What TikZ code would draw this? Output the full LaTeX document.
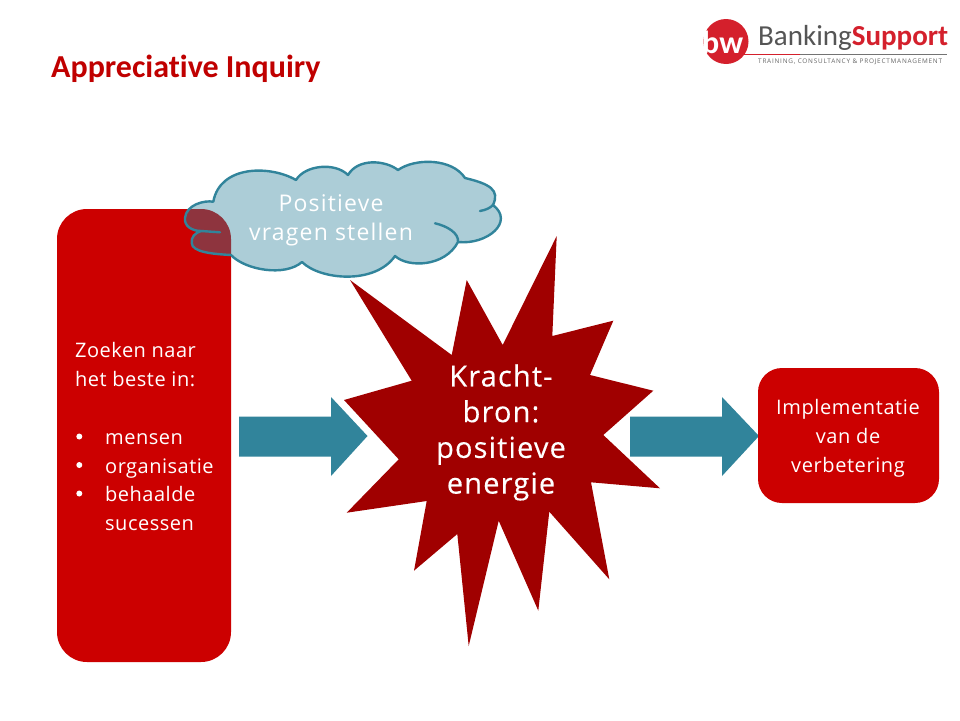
\documentclass[tikz,border=0pt]{standalone}
\usepackage{fontspec}
\setmainfont{Open Sans}
\newfontfamily\titlefont[Ligatures=NoCommon]{Carlito}
\newfontfamily\logofont[Ligatures=NoCommon]{Carlito}
\newfontfamily\tagfont[LetterSpace=12]{Open Sans}
\newfontfamily\bodyfont[LetterSpace=2.5]{Open Sans}
\newfontfamily\rightfont[LetterSpace=3]{Open Sans}
\newfontfamily\cloudfont[LetterSpace=5.2]{Open Sans}
\newfontfamily\starfont[LetterSpace=4,FakeBold=0.3]{Open Sans}
\definecolor{redbox}{RGB}{204,0,0}
\definecolor{starred}{RGB}{160,0,0}
\definecolor{teal1}{RGB}{49,132,155}
\definecolor{titlered}{RGB}{192,0,0}
\definecolor{logored}{RGB}{212,32,44}
\definecolor{logogray}{RGB}{85,85,85}
\tikzset{
 boxfill/.style={fill=redbox,draw=none},
 blockarrow/.style={fill=teal1,draw=none},
 wtext/.style={text=white,inner sep=0pt,font=\bodyfont\fontsize{20}{29}\selectfont},
 ctext/.style={text=white,inner sep=0pt,align=center,anchor=center},
}
\begin{document}
\begin{tikzpicture}[x=1pt,y=-1pt]
\useasboundingbox (0,0) rectangle (960,720);
\fill[white] (0,0) rectangle (960,720);
% title
\node[anchor=base west,inner sep=0pt,text=titlered,font=\titlefont\bfseries\fontsize{32}{36}\selectfont] (title) at (51,77) {Appreciative Inquiry};
% logo
\fill[logored] (726,41.5) circle (22.5);
\node[anchor=base west,inner sep=0pt,text=white,font=\logofont\bfseries\fontsize{32}{32}\selectfont] (bw) at (702,53) {bw};
\node[anchor=base west,inner sep=0pt,text=logogray,font=\logofont\fontsize{29}{29}\selectfont] (bank) at (758,45) {Banking\textcolor{logored}{\bfseries Support}};
\draw[logored,line width=0.8pt] (743,54) -- (800,54);
\draw[black!55,line width=0.8pt] (800,54) -- (947,54);
\node[anchor=base west,inner sep=0pt,text=black!60,font=\tagfont\fontsize{6.4}{7}\selectfont] (tag) at (758,63) {TRAINING, CONSULTANCY \& PROJECTMANAGEMENT};
% left box
\fill[boxfill,rounded corners=30] (57,209) rectangle (231,662);
% cloud
\path[fill=teal1,fill opacity=0.4,draw=teal1,draw opacity=1,line width=2.4pt,line cap=round,line join=round]
 (213.3,201.7) .. controls (204,200) and (186,205) .. (185,218)
 .. controls (184,226) and (192,231) .. (201,231)
 .. controls (195,233) and (191,237) .. (191.7,243)
 .. controls (192,252) and (212,254) .. (231,255)
 .. controls (245,270) and (285,277) .. (302,262)
 .. controls (320,280) and (375,285) .. (395,256)
 .. controls (408,268) and (445,267) .. (458,242)
 .. controls (487,245) and (515,222) .. (493,205)
 .. controls (500,190) and (490,184) .. (465,178)
 .. controls (452,158) and (415,158) .. (398,170)
 .. controls (385,160) and (358,158) .. (348,175)
 .. controls (335,162) and (305,165) .. (296,180)
 .. controls (270,165) and (220,165) .. (213.3,201.7) -- cycle;
\draw[teal1,line width=2.4pt,line cap=round] (201,231) -- (220,232.3);
\draw[teal1,line width=2.4pt,line cap=round] (435,223.3) .. controls (447,226) and (459,233) .. (458,242);
\draw[teal1,line width=2.4pt,line cap=round] (480,211) .. controls (486,210) and (490,208) .. (493,205);
% star
\fill[starred] (556.7,236) -- (552.3,336) -- (613.3,320.7) -- (590,375) -- (653.3,390.7) -- (603.3,435) -- (660,488.3) -- (591,482.3) -- (609.3,579.3) -- (549.3,511.7) -- (538.3,610.7) -- (498.7,520.7) -- (468.7,646) -- (457.3,534) -- (414,570.7) -- (426.7,501) -- (346.7,512.7) -- (398.7,459.3) -- (344,400) -- (411.7,380.7) -- (350,280) -- (451.7,355) -- (466.7,280) -- (502.7,345) -- cycle;
% arrows
\fill[blockarrow] (239,416.5) -- (331,416.5) -- (331,397) -- (367.5,436) -- (331,476) -- (331,456.5) -- (239,456.5) -- cycle;
\fill[blockarrow] (630,416.5) -- (722,416.5) -- (722,397) -- (759,436) -- (722,476) -- (722,456.5) -- (630,456.5) -- cycle;
% right box
\fill[boxfill,rounded corners=24] (758,368) rectangle (939,503);
% texts
\node[ctext,font=\cloudfont\fontsize{23}{29}\selectfont] (cloudtext) at (331,220) {Positieve\\vragen stellen};
\node[ctext,font=\starfont\fontsize{29}{35.7}\selectfont] (startext) at (501,432.5) {Kracht-\\bron:\\positieve\\energie};
\node[ctext,font=\rightfont\fontsize{20}{29}\selectfont] (righttext) at (848,438) {Implementatie\\van de\\verbetering};
\node[wtext,anchor=base west] (t1) at (75,357) {Zoeken naar};
\node[wtext,anchor=base west] (t2) at (75,386) {het beste in:};
\node[wtext,anchor=base west] (b1) at (105,444) {mensen};
\node[wtext,anchor=base west] (b2) at (105,473) {organisatie};
\node[wtext,anchor=base west] (b3) at (105,501) {behaalde};
\node[wtext,anchor=base west] (b4) at (105,530) {sucessen};
\fill[white] (79.3,436.5) circle (3) (79.3,465) circle (3) (79.3,493.5) circle (3);
\end{tikzpicture}
\end{document}
